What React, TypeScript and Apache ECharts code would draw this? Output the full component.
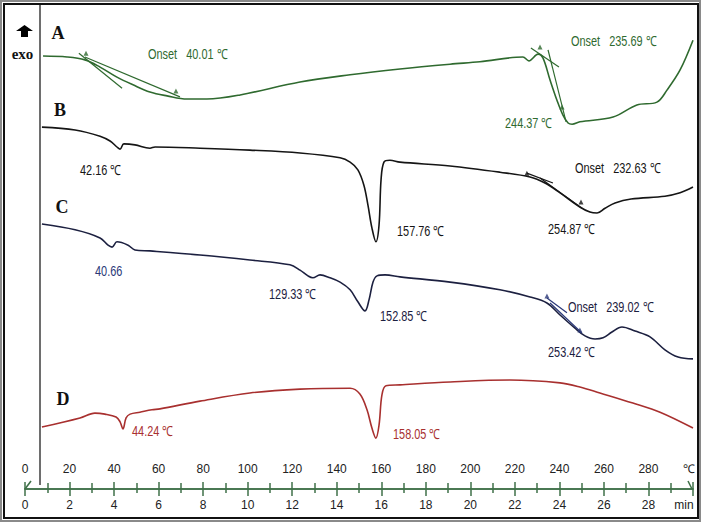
import React, { useEffect, useRef } from "react";
import * as echarts from "echarts";

// ---- Data (temperature in °C, heat flow in arbitrary units, exo up) ----
const tempTicksC = { min: 0, max: 300, step: 20 };
const timeTicksMin = { min: 0, max: 30, step: 2 };

const curveA_T = [8.1, 18.9, 26.9, 33.7, 41.3, 48.5, 56.1, 63.8, 72.8, 81.7, 96.6, 123.5, 146, 168.4, 190.9, 204.3, 223.6, 226.3, 230.4, 232.6, 235.8, 238.9, 241.6, 243.9, 245.7, 249.2, 264.1, 274.8, 283.8, 288.3, 294.2, 300];
const curveA_Q = [90.2, 90.0, 89.4, 87.9, 85.8, 84.2, 82.7, 81.9, 81.25, 81.25, 82.1, 84.8, 86.3, 87.5, 88.5, 89.0, 90.0, 89.2, 90.6, 89.8, 85.2, 81.0, 77.9, 76.25, 76.0, 76.5, 77.5, 80.0, 80.6, 83.1, 87.3, 93.5];

const curveB_T = [7.6, 22.5, 33.7, 38.2, 41.3, 42.7, 44.4, 49.4, 56.1, 58.4, 78.6, 101, 123.5, 141.5, 146, 149.5, 152.2, 154, 155.8, 157.6, 159, 159.9, 161.2, 163.9, 168.4, 190.9, 213.3, 226.8, 233.5, 240.3, 249.2, 253.7, 256.9, 260.5, 265, 272.2, 287.4, 294.2, 300];
const curveB_Q = [75.4, 74.8, 73.5, 72.5, 71.25, 70.8, 71.9, 71.7, 71.0, 71.25, 71.0, 70.6, 70.0, 69.0, 68.1, 66.5, 63.3, 59.2, 54.4, 51.5, 55.0, 64.4, 68.1, 68.5, 68.1, 67.3, 66.0, 65.0, 63.75, 61.7, 58.75, 57.7, 57.5, 58.5, 59.6, 60.4, 61.0, 61.7, 62.9];

const curveC_T = [7.6, 22.5, 33.7, 37.3, 39.1, 41.3, 46.3, 49.4, 56.1, 78.6, 101, 119, 123.5, 127.1, 129.3, 132.5, 137, 141.5, 146, 149.5, 152.7, 154.5, 156.3, 158.1, 161.7, 168.4, 190.9, 213.3, 226.8, 234.4, 240.3, 247, 251.5, 256, 259.6, 263.6, 268.1, 274, 280.7, 287.4, 293.3, 300];
const curveC_Q = [55.2, 54.0, 52.3, 50.8, 50.4, 51.5, 50.8, 49.8, 49.6, 48.75, 47.7, 46.7, 45.6, 44.4, 44.0, 44.6, 44.0, 43.1, 41.5, 39.0, 37.1, 39.4, 43.1, 44.4, 44.6, 44.2, 43.1, 41.5, 40.0, 38.75, 36.25, 33.5, 31.9, 31.25, 31.5, 32.7, 33.75, 32.9, 31.7, 29.0, 27.5, 27.1];

const curveD_T = [7.6, 24.7, 31.4, 35.9, 40.9, 42.7, 44.0, 45.4, 47.2, 51.6, 57.0, 60.6, 78.6, 101, 123.5, 146, 150.4, 153.6, 155.8, 157.6, 159, 160.3, 162.1, 168.4, 190.9, 217.8, 240.3, 249.2, 258.2, 273, 285.2, 300];
const curveD_Q = [12.9, 14.8, 15.8, 15.6, 15.0, 14.0, 12.5, 14.8, 15.6, 16.0, 16.5, 16.7, 18.3, 20.0, 20.8, 21.0, 19.8, 16.5, 12.7, 10.6, 13.3, 19.6, 21.5, 21.7, 22.3, 22.7, 22.1, 21.25, 20.0, 17.9, 16.0, 12.7];

// onset tangent constructions: [T1, Q1, T2, Q2]
const tangentsA = [[24.2, 90.8, 43.6, 83.5], [26.9, 90.0, 69.6, 81.7], [227.2, 91.9, 239.8, 87.9], [234.9, 91.5, 243.0, 76.5]];
const tangentsB = [[225.4, 65.8, 237.1, 63.75], [231.3, 64.8, 250.1, 58.5]];
const tangentsC = [[234.4, 39.8, 243.4, 36.7], [235.8, 38.75, 250.1, 32.5]];
const markersA = [[27.4, 90.8], [67.8, 82.9], [231.3, 92.1], [241.2, 79.6]];
const markersB = [[225.4, 65.8], [249.7, 59.8]];
const markersC = [[234.4, 40.2], [249.2, 33.1]];

// annotations
const annotations = [
  { text: "Onset   40.01 ℃", x: 148, y: 55, c: "green" },
  { text: "Onset   235.69 ℃", x: 571, y: 42, c: "green" },
  { text: "244.37 ℃", x: 505, y: 124, c: "green" },
  { text: "42.16 ℃", x: 80, y: 171, c: "black" },
  { text: "157.76 ℃", x: 397, y: 232, c: "black" },
  { text: "Onset   232.63 ℃", x: 575, y: 169, c: "black" },
  { text: "254.87 ℃", x: 548, y: 230, c: "black" },
  { text: "40.66", x: 95, y: 272, c: "navy" },
  { text: "129.33 ℃", x: 269, y: 295, c: "dark" },
  { text: "152.85 ℃", x: 380, y: 317, c: "dark" },
  { text: "Onset   239.02 ℃", x: 568, y: 308, c: "dark" },
  { text: "253.42 ℃", x: 548, y: 353, c: "dark" },
  { text: "44.24 ℃", x: 132, y: 432, c: "red" },
  { text: "158.05 ℃", x: 393, y: 435, c: "red" },
];
const curveLetters = [
  { text: "A", x: 58, y: 33 },
  { text: "B", x: 60, y: 110 },
  { text: "C", x: 62, y: 207 },
  { text: "D", x: 63, y: 399 },
];

const COLORS: Record<string, string> = {
  green: "#2f6a2f",
  black: "#151515",
  navy: "#2a3878",
  dark: "#1c2040",
  red: "#a8302f",
};
const AXIS = "#3f7048";
const FONT = "'Liberation Sans', Arial, sans-serif";

const zip = (t: number[], q: number[]) => t.map((v, i) => [v, q[i]]);

function curve(name: string, t: number[], q: number[], color: string) {
  return {
    name,
    type: "line",
    data: zip(t, q),
    showSymbol: false,
    smooth: 0.35,
    clip: false,
    lineStyle: { color, width: 1.6 },
    z: 3,
  };
}
function tangents(list: number[][], color: string) {
  return list.map((s) => ({
    type: "line",
    data: [[s[0], s[1]], [s[2], s[3]]],
    showSymbol: false,
    clip: false,
    lineStyle: { color, width: 1.2 },
    z: 4,
  }));
}
function markers(list: number[][], color: string) {
  return {
    type: "scatter",
    data: list,
    symbol: "triangle",
    symbolSize: 5,
    itemStyle: { color },
    z: 5,
  };
}

export default function App() {
  const ref = useRef<HTMLDivElement>(null);
  useEffect(() => {
    if (!ref.current) return;
    const chart = echarts.init(ref.current, undefined, { renderer: "svg" });
    const labelStyle = { color: "#222", fontFamily: FONT, fontSize: 12 };
    const option: any = {
      animation: false,
      grid: { left: 25, right: 9, top: 9, bottom: 34 },
      xAxis: [
        {
          type: "value",
          min: tempTicksC.min,
          max: tempTicksC.max,
          interval: tempTicksC.step,
          position: "bottom",
          axisLine: { lineStyle: { color: AXIS, width: 1.5 } },
          axisTick: { inside: true, length: 7, lineStyle: { color: AXIS, width: 1.5 } },
          minorTick: { show: true, splitNumber: 2, length: 6, lineStyle: { color: AXIS, width: 1.5 } },
          splitLine: { show: false },
          axisLabel: {
            inside: true,
            margin: 14,
            ...labelStyle,
            formatter: (v: number) => (v === tempTicksC.max ? "{e|℃}" : String(v)),
            rich: { e: { ...labelStyle, padding: [0, 8, 0, 0] } },
          },
        },
        {
          type: "value",
          min: timeTicksMin.min,
          max: timeTicksMin.max,
          interval: timeTicksMin.step,
          position: "bottom",
          axisLine: { lineStyle: { color: AXIS, width: 1.5 } },
          axisTick: { inside: false, length: 7, lineStyle: { color: AXIS, width: 1.5 } },
          minorTick: { show: true, splitNumber: 2, length: 4, lineStyle: { color: AXIS, width: 1.5 } },
          splitLine: { show: false },
          axisLabel: {
            margin: 10,
            ...labelStyle,
            formatter: (v: number) => (v === timeTicksMin.max ? "{e|min}" : String(v)),
            rich: { e: { ...labelStyle, padding: [0, 18, 0, 0] } },
          },
        },
      ],
      yAxis: { type: "value", min: 0, max: 100, show: false },
      series: [
        curve("A", curveA_T, curveA_Q, COLORS.green),
        curve("B", curveB_T, curveB_Q, COLORS.black),
        curve("C", curveC_T, curveC_Q, COLORS.dark),
        curve("D", curveD_T, curveD_Q, COLORS.red),
        ...tangents(tangentsA, COLORS.green),
        ...tangents(tangentsB, COLORS.black),
        ...tangents(tangentsC, COLORS.navy),
        markers(markersA, COLORS.green),
        markers(markersB, COLORS.black),
        markers(markersC, COLORS.navy),
      ],
      graphic: [
        // frame
        { type: "rect", shape: { x: 1, y: 1, width: 699, height: 520 }, style: { fill: "none", stroke: "#8a8a8a", lineWidth: 2 }, silent: true },
        { type: "rect", shape: { x: 4, y: 4, width: 694, height: 514 }, style: { fill: "none", stroke: "#111", lineWidth: 2 }, silent: true },
        { type: "line", shape: { x1: 40, y1: 5, x2: 40, y2: 485 }, style: { stroke: "#6e6e6e", lineWidth: 2 }, silent: true },
        // axis end slashes
        { type: "line", shape: { x1: 25, y1: 489, x2: 31, y2: 481 }, style: { stroke: AXIS, lineWidth: 1.5 }, silent: true },
        { type: "line", shape: { x1: 692, y1: 489, x2: 688, y2: 481 }, style: { stroke: AXIS, lineWidth: 1.5 }, silent: true },
        // exo arrow
        { type: "polygon", shape: { points: [[16, 31], [24.5, 25], [33, 31], [28, 31], [28, 37], [21, 37], [21, 31]] }, style: { fill: "#000" }, silent: true },
        { type: "text", x: 22.5, y: 54, style: { text: "exo", font: "bold 15px 'Liberation Serif', serif", fill: "#111", align: "center", verticalAlign: "middle" }, silent: true },
        ...curveLetters.map((l) => ({
          type: "text",
          x: l.x,
          y: l.y,
          style: { text: l.text, font: "bold 18px 'Liberation Serif', serif", fill: "#111", align: "center", verticalAlign: "middle" },
          silent: true,
        })),
        ...annotations.map((a) => ({
          type: "text",
          x: a.x,
          y: a.y,
          scaleX: 0.78,
          style: { text: a.text, fontFamily: FONT, fontSize: 14, fill: COLORS[a.c], align: "left", verticalAlign: "middle" },
          silent: true,
        })),
      ],
    };
    chart.setOption(option);
    return () => chart.dispose();
  }, []);
  return <div ref={ref} style={{ width: 702, height: 523, position: "absolute", left: 0, top: 0, background: "#fff" }} />;
}
